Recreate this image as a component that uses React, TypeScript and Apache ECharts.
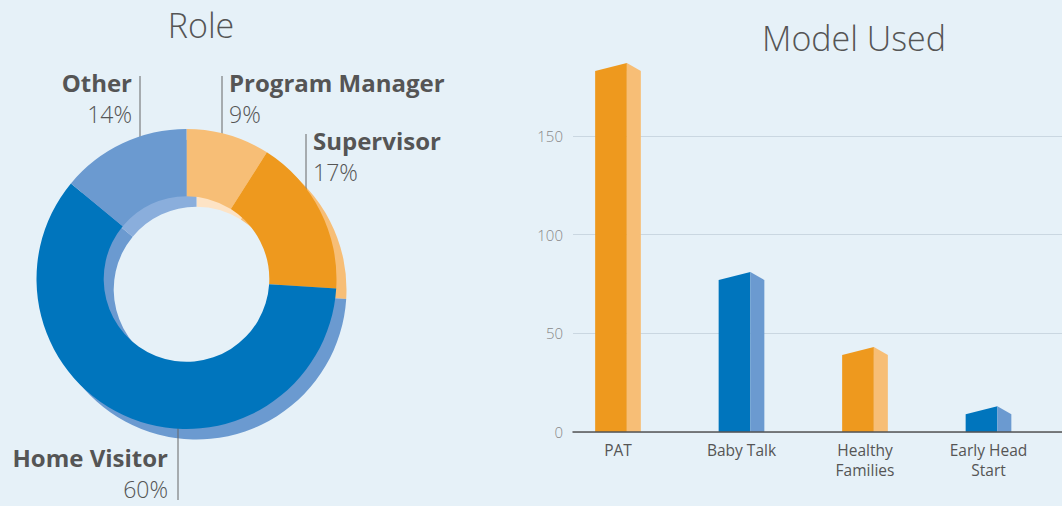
import React, { useEffect, useRef } from "react";
import * as echarts from "echarts";

// ---- Data ----
const roleNames = ["Program Manager", "Supervisor", "Home Visitor", "Other"];
const rolePercents = [9, 17, 60, 14];

const modelCategories = ["PAT", "Baby Talk", "Healthy\nFamilies", "Early Head\nStart"];
const modelCounts = [183, 77, 39, 9];

const yAxisMax = 150;
const yAxisInterval = 50;

const titles = ["Role", "Model Used"];

// ---- Styles ----
const BG = "#E6F1F8";
const FONT = '"Open Sans", "Noto Sans", sans-serif';
const TEXT = "#555555";

const roleFront = ["#F7BE76", "#EE991E", "#0075BD", "#6B9AD0"];
const roleBack = ["#FDE3C5", "#F7BE76", "#6B9AD0", "#8AAEDC"];
const barFront = ["#EE991E", "#0075BD", "#EE991E", "#0075BD"];
const barSide = ["#F7BE76", "#6B9AD0", "#F7BE76", "#6B9AD0"];

// label placement for the donut (x, y of text block, alignment, leader line x / y1 / y2)
const labelPlacement = [
  { x: 229, y: 98, align: "left", lx: 222, y1: 76, y2: 150 },
  { x: 313, y: 156, align: "left", lx: 306, y1: 134, y2: 238 },
  { x: 168, y: 473, align: "right", lx: 178, y1: 402, y2: 500 },
  { x: 132, y: 98, align: "right", lx: 140, y1: 76, y2: 158 },
];

export default function App() {
  const ref = useRef<HTMLDivElement>(null);

  useEffect(() => {
    document.body.style.margin = "0";
    document.body.style.background = BG;
    if (!ref.current) return;
    const chart = echarts.init(ref.current, undefined, { renderer: "svg" });

    const option: any = {
      animation: false,
      backgroundColor: BG,
      textStyle: { fontFamily: FONT },
      graphic: [
        {
          type: "text",
          x: 201,
          y: 25,
          silent: true,
          style: {
            text: titles[0],
            fontSize: 34,
            fontWeight: 300,
            fontFamily: FONT,
            fill: TEXT,
            align: "center",
            verticalAlign: "middle",
          },
        },
        {
          type: "text",
          x: 854,
          y: 38,
          silent: true,
          style: {
            text: titles[1],
            fontSize: 34,
            fontWeight: 300,
            fontFamily: FONT,
            fill: TEXT,
            align: "center",
            verticalAlign: "middle",
          },
        },
      ],
      grid: [
        { left: 573, right: 0, top: 136, bottom: 74 },
        { left: 556.25, right: 11.75, top: 136, bottom: 74 },
      ],
      xAxis: [
        {
          gridIndex: 0,
          type: "category",
          data: modelCategories,
          axisLabel: { show: false },
          axisTick: { show: false },
          axisLine: { show: true, lineStyle: { color: "#555", width: 1.5 } },
          splitLine: { show: false },
          z: 5,
        },
        {
          gridIndex: 1,
          type: "category",
          data: modelCategories,
          axisLine: { show: false },
          axisTick: { show: false },
          splitLine: { show: false },
          axisLabel: {
            color: TEXT,
            fontSize: 15.5,
            lineHeight: 20,
            margin: 8,
            fontFamily: FONT,
            interval: 0,
          },
        },
      ],
      yAxis: [
        {
          gridIndex: 0,
          type: "value",
          min: 0,
          max: yAxisMax,
          interval: yAxisInterval,
          axisLine: { show: false },
          axisTick: { show: false },
          axisLabel: {
            color: "#888",
            fontSize: 15,
            fontWeight: 300,
            margin: 10,
            fontFamily: FONT,
          },
          splitLine: { show: true, lineStyle: { color: "#CAD7E1", width: 1 } },
        },
        {
          gridIndex: 1,
          type: "value",
          min: 0,
          max: yAxisMax,
          interval: yAxisInterval,
          show: false,
          splitLine: { show: false },
        },
      ],
      series: [
        {
          type: "pie",
          silent: true,
          center: [196.5, 289.5],
          radius: [82.8, 150],
          startAngle: 90,
          clockwise: true,
          padAngle: 0,
          label: { show: false },
          labelLine: { show: false },
          emphasis: { disabled: true },
          itemStyle: { borderWidth: 0 },
          z: 1,
          data: roleNames.map((n, i) => ({
            name: n,
            value: rolePercents[i],
            itemStyle: { color: roleBack[i] },
          })),
        },
        {
          type: "pie",
          silent: true,
          center: [186.5, 279],
          radius: [82.8, 150],
          startAngle: 90,
          clockwise: true,
          padAngle: 0,
          avoidLabelOverlap: false,
          emphasis: { disabled: true },
          itemStyle: { borderWidth: 0 },
          z: 2,
          label: {
            show: true,
            position: "outside",
            formatter: (p: any) => `{n|${p.name}}\n{p|${Math.round(p.percent)}%}`,
            rich: {
              n: {
                fontSize: 24,
                fontWeight: "bold",
                color: TEXT,
                lineHeight: 32,
                fontFamily: FONT,
              },
              p: {
                fontSize: 23,
                fontWeight: 300,
                color: TEXT,
                lineHeight: 32,
                fontFamily: FONT,
              },
            },
          },
          labelLine: {
            show: true,
            smooth: false,
            lineStyle: { color: "#666", width: 1 },
          },
          labelLayout: (params: any) => {
            const lp = labelPlacement[params.dataIndex];
            return {
              x: lp.x,
              y: lp.y,
              align: lp.align,
              verticalAlign: "middle",
              labelLinePoints: [
                [lp.lx, lp.y1],
                [lp.lx, (lp.y1 + lp.y2) / 2],
                [lp.lx, lp.y2],
              ],
            };
          },
          data: roleNames.map((n, i) => ({
            name: n,
            value: rolePercents[i],
            itemStyle: { color: roleFront[i] },
            label: { align: labelPlacement[i].align },
          })),
        },
        {
          type: "custom",
          xAxisIndex: 1,
          yAxisIndex: 1,
          silent: true,
          data: modelCounts.map((v, i) => [i, v]),
          renderItem: (params: any, api: any) => {
            const i = api.value(0);
            const base = api.coord([i, 0]);
            const top = api.coord([i, api.value(1)]);
            const cx = base[0];
            const fl = cx - 22.85;
            const fr = cx + 8.85;
            const sr = cx + 22.85;
            const rise = 8;
            const idx = params.dataIndex;
            return {
              type: "group",
              children: [
                {
                  type: "polygon",
                  shape: {
                    points: [
                      [fl, base[1]],
                      [fl, top[1]],
                      [fr, top[1] - rise],
                      [fr, base[1]],
                    ],
                  },
                  style: { fill: barFront[idx] },
                },
                {
                  type: "polygon",
                  shape: {
                    points: [
                      [fr, base[1]],
                      [fr, top[1] - rise],
                      [sr, top[1]],
                      [sr, base[1]],
                    ],
                  },
                  style: { fill: barSide[idx] },
                },
              ],
            };
          },
        },
      ],
    };

    chart.setOption(option);
    return () => {
      chart.dispose();
    };
  }, []);

  return <div ref={ref} style={{ width: 1062, height: 506, background: BG }} />;
}
